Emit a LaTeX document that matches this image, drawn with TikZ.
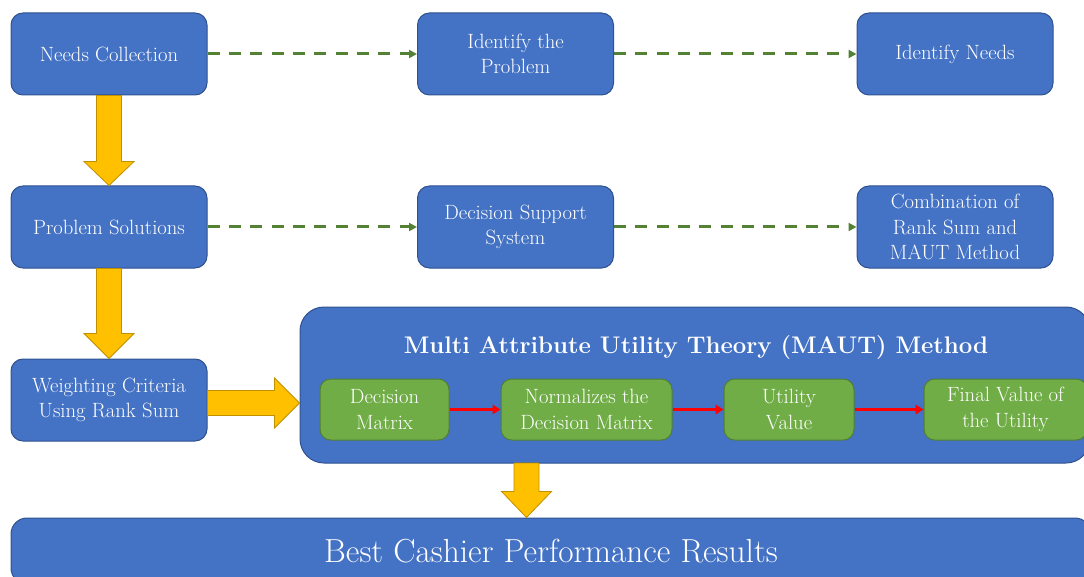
\documentclass[tikz,border=0pt]{standalone}
\usetikzlibrary{calc,arrows.meta}

\tikzset{every picture/.style={line width=0.75pt}}
\tikzset{
  bluebox/.style={draw={rgb, 255:red, 47; green, 82; blue, 143 }, fill={rgb, 255:red, 68; green, 114; blue, 196 }, rounded corners=9pt, text=white, align=center, minimum width=147pt, minimum height=61.5pt, inner sep=2pt, font=\fontsize{15.5}{19}\selectfont},
  greenbox/.style={draw={rgb, 255:red, 80; green, 126; blue, 50 }, fill={rgb, 255:red, 112; green, 173; blue, 71 }, rounded corners=8pt, text=white, align=center, minimum height=45.75pt, inner sep=2pt, font=\fontsize{15.5}{19}\selectfont},
  mautbox/.style={draw={rgb, 255:red, 47; green, 82; blue, 143 }, fill={rgb, 255:red, 68; green, 114; blue, 196 }, rounded corners=18pt, minimum width=592.5pt, minimum height=117pt},
  blockarr/.style={draw={rgb, 255:red, 191; green, 144; blue, 0 }, fill={rgb, 255:red, 255; green, 192; blue, 0 }, line width=0.6pt},
  greendash/.style={draw={rgb, 255:red, 84; green, 130; blue, 53 }, line width=2.25pt, dash pattern={on 9pt off 7pt}, -{Triangle[length=6pt,width=6pt]}},
  redarr/.style={draw={rgb, 255:red, 255; green, 0; blue, 0 }, line width=2.25pt, -{Triangle[length=6pt,width=7pt]}}
}

\begin{document}
\begin{tikzpicture}[x=0.75pt,y=0.75pt,yscale=-1,xscale=1]
\useasboundingbox (0,0) rectangle (1084,577);

% Row 1
\draw (109,54) node (nc) [bluebox] {Needs Collection};
\draw (515.5,54) node (ip) [bluebox] {Identify the\\Problem};
\draw (955,54) node (in) [bluebox] {Identify Needs};
% Row 2
\draw (109,227) node (ps) [bluebox] {Problem Solutions};
\draw (515.5,227) node (dss) [bluebox] {Decision Support\\System};
\draw (955,227) node (cm) [bluebox] {Combination of\\Rank Sum and\\MAUT Method};
% Row 3
\draw (109,400) node (wc) [bluebox] {Weighting Criteria\\Using Rank Sum};

%Shape: MAUT container
\draw (695,385) node (maut) [mautbox] {};
% Text Node
\draw (696,348) node (mt) [text=white, font=\fontsize{18}{22}\selectfont\bfseries] {Multi Attribute Utility Theory (MAUT) Method};
\draw (384.5,409.5) node (dm) [greenbox, minimum width=96.75pt] {Decision\\Matrix};
\draw (586.5,409.5) node (nm) [greenbox, minimum width=128.25pt] {Normalizes the\\Decision Matrix};
\draw (789,409.5) node (uv) [greenbox, minimum width=97.5pt] {Utility\\Value};
\draw (1005.5,409.5) node (fv) [greenbox, minimum width=122.25pt] {Final Value of\\the Utility};

%Shape: result bar
\draw (551,551) node (br) [bluebox, minimum width=810pt, minimum height=49.5pt, rounded corners=12pt, font=\fontsize{25}{30}\selectfont] {Best Cashier Performance Results};

%Straight Lines
\draw [greendash] (nc.east) -- (ip.west);
\draw [greendash] (ip.east) -- (in.west);
\draw [greendash] (ps.east) -- (dss.west);
\draw [greendash] (dss.east) -- (cm.west);

\draw [redarr] (dm.east) -- (nm.west);
\draw [redarr] (nm.east) -- (uv.west);
\draw [redarr] (uv.east) -- (fv.west);

%Shape: Block Arrows
\draw [blockarr] ($(nc.south)+(-12.5,0)$) -- ($(ps.north)+(-12.5,-24)$) -- ($(ps.north)+(-25,-24)$) -- (ps.north) -- ($(ps.north)+(25,-24)$) -- ($(ps.north)+(12.5,-24)$) -- ($(nc.south)+(12.5,0)$) -- cycle;
\draw [blockarr] ($(ps.south)+(-12.5,0)$) -- ($(wc.north)+(-12.5,-25)$) -- ($(wc.north)+(-25,-25)$) -- (wc.north) -- ($(wc.north)+(25,-25)$) -- ($(wc.north)+(12.5,-25)$) -- ($(ps.south)+(12.5,0)$) -- cycle;
\coordinate (wcout) at ($(wc.east)+(0,3)$);
\coordinate (mautin) at (maut.west |- wcout);
\draw [blockarr] ($(wcout)+(0,-12.5)$) -- ($(mautin)+(-25,-12.5)$) -- ($(mautin)+(-25,-25)$) -- (mautin) -- ($(mautin)+(-25,25)$) -- ($(mautin)+(-25,12.5)$) -- ($(wcout)+(0,12.5)$) -- cycle;
\coordinate (mautout) at (526.5,463);
\coordinate (brin) at (br.north -| mautout);
\draw [blockarr] ($(mautout)+(-12.5,0)$) -- ($(brin)+(-12.5,-26)$) -- ($(brin)+(-25,-26)$) -- (brin) -- ($(brin)+(25,-26)$) -- ($(brin)+(12.5,-26)$) -- ($(mautout)+(12.5,0)$) -- cycle;

\end{tikzpicture}
\end{document}
